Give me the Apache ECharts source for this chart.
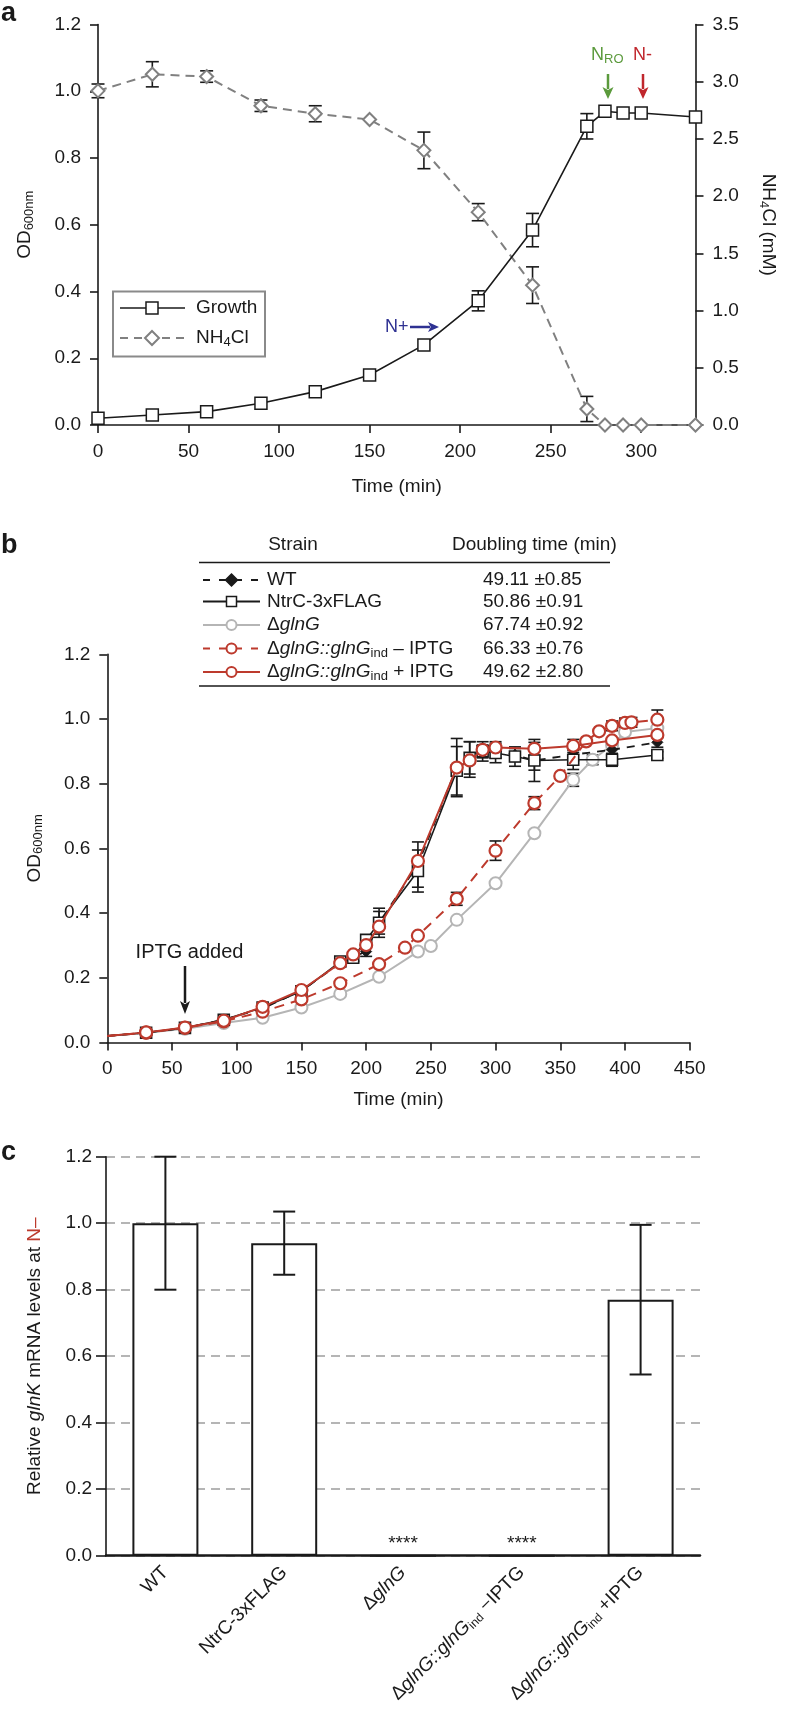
<!DOCTYPE html>
<html><head><meta charset="utf-8">
<script src="https://cdn.jsdelivr.net/npm/echarts@6.0.0/dist/echarts.min.js"></script>
<style>html,body{margin:0;padding:0;background:#fff}#c{width:786px;height:1718px}</style>
</head><body><div id="c"></div>
<script>
// ================= DATA =================
// Panel a
const aTime = [0, 30, 60, 90, 120, 150, 180, 210, 240, 270, 280, 290, 300, 330];
const aGrowth = [0.02, 0.03, 0.04, 0.065, 0.10, 0.15, 0.24, 0.372, 0.584, 0.895, 0.94, 0.935, 0.935, 0.923];
const aGrowthErr = [0, 0, 0, 0, 0, 0, 0, 0.03, 0.05, 0.038, 0, 0, 0, 0];
const aNH4 = [2.92, 3.065, 3.045, 2.79, 2.72, 2.67, 2.40, 1.86, 1.222, 0.14, 0, 0, 0, 0];
const aNH4Err = [0.06, 0.11, 0.05, 0.05, 0.07, 0, 0.16, 0.075, 0.16, 0.11, 0, 0, 0, 0];
const aXTicks = [0, 50, 100, 150, 200, 250, 300];

// Panel b
const bTimeWT = [0, 30, 60, 90, 120, 150, 180, 190, 200, 210, 240, 270, 280, 290, 300, 315, 330, 360, 390, 425];
const bWT = [0.02, 0.03, 0.045, 0.07, 0.105, 0.16, 0.245, 0.265, 0.281, 0.37, 0.55, 0.85, 0.875, 0.90, 0.905, 0.889, 0.872, 0.89, 0.905, 0.928];
const bWTErr = [0, 0, 0, 0, 0, 0, 0.01, 0.015, 0.015, 0.035, 0.07, 0.09, 0.055, 0.02, 0.025, 0.02, 0.065, 0.02, 0.02, 0.015];
const bTimeNtrC = [0, 30, 60, 90, 120, 150, 180, 190, 200, 210, 240, 270, 280, 290, 300, 315, 330, 360, 390, 425];
const bNtrC = [0.02, 0.03, 0.045, 0.07, 0.108, 0.158, 0.25, 0.262, 0.317, 0.37, 0.53, 0.84, 0.88, 0.90, 0.895, 0.884, 0.872, 0.874, 0.874, 0.889];
const bNtrCErr = [0, 0, 0, 0, 0, 0, 0.01, 0.01, 0.015, 0.045, 0.065, 0.075, 0.05, 0.03, 0.03, 0.03, 0.03, 0.03, 0.02, 0.01];
const bTimeGlnG = [0, 30, 60, 90, 120, 150, 180, 210, 240, 250, 270, 300, 330, 360, 375, 390, 400, 425];
const bGlnG = [0.02, 0.03, 0.042, 0.06, 0.076, 0.108, 0.15, 0.203, 0.281, 0.298, 0.379, 0.492, 0.647, 0.812, 0.874, 0.92, 0.96, 0.972];
const bGlnGErr = [0, 0, 0, 0, 0, 0, 0, 0, 0, 0, 0, 0, 0, 0.02, 0.015, 0, 0, 0];
const bTimeMinus = [0, 30, 60, 90, 120, 150, 180, 210, 230, 240, 270, 300, 330, 350, 370, 380, 390, 400, 405, 425];
const bMinus = [0.02, 0.03, 0.045, 0.065, 0.095, 0.133, 0.183, 0.242, 0.293, 0.330, 0.444, 0.593, 0.740, 0.824, 0.931, 0.962, 0.979, 0.988, 0.99, 0.998];
const bMinusErr = [0, 0, 0, 0, 0, 0, 0, 0, 0, 0, 0.02, 0.03, 0.02, 0, 0, 0, 0.015, 0.015, 0.015, 0.03];
const bTimePlus = [0, 30, 60, 90, 120, 150, 180, 190, 200, 210, 240, 270, 280, 290, 300, 330, 360, 390, 425];
const bPlus = [0.02, 0.031, 0.046, 0.067, 0.110, 0.162, 0.245, 0.272, 0.301, 0.358, 0.561, 0.85, 0.872, 0.905, 0.912, 0.908, 0.917, 0.934, 0.951];
const bPlusErr = [0, 0, 0, 0, 0, 0, 0, 0, 0, 0, 0, 0, 0, 0, 0, 0.02, 0.02, 0, 0];
const tblStrains = ['WT', 'NtrC-3xFLAG', '{n|\u0394}{i|glnG}', '{n|\u0394}{i|glnG::glnG}{sub|ind}{n| \u2013 IPTG}', '{n|\u0394}{i|glnG::glnG}{sub|ind}{n| + IPTG}'];
const tblDoubling = ['49.11 \u00b10.85', '50.86 \u00b10.91', '67.74 \u00b10.92', '66.33 \u00b10.76', '49.62 \u00b12.80'];

// Panel c
const cCats = ['WT', 'NtrC-3xFLAG', '\u0394glnG', '\u0394glnG::glnGind \u2212IPTG', '\u0394glnG::glnGind +IPTG'];
const cLabels = ['WT', 'NtrC-3xFLAG', '{n|\u0394}{i|glnG}', '{n|\u0394}{i|glnG::glnG}{sub|ind}{n| \u2212IPTG}', '{n|\u0394}{i|glnG::glnG}{sub|ind}{n| +IPTG}'];
const cValues = [1.0, 0.94, 0, 0, 0.77];
const cErr = [0.2, 0.095, 0, 0, 0.225];
const cSig = ['', '', '****', '****', ''];

// ================= STYLE =================
const FONT = '"Liberation Sans", Arial, Helvetica, sans-serif';
const INK = '#1a1a1a';
const RED = '#bd3a2d';
const LGRAY = '#b5b5b5';
const DGRAY = '#808080';
const TICK = 19, TITLE = 19;

function tok(size, color, extra) {
  return Object.assign({fontSize: size, fontFamily: FONT, color: color, fill: color}, extra || {});
}
const richBase = {
  n: tok(TITLE, INK),
  a: tok(TITLE, INK),
  i: tok(TITLE, INK, {fontStyle: 'italic'}),
  s: tok(13, INK, {padding: [9, 0, 0, 0]}),
  sub: tok(13, INK, {padding: [9, 0, 0, 0]}),
  r: tok(TITLE, RED)
};

function xy(xs, ys, hideZero) {
  return xs.map((x, i) => (hideZero && x === 0) ? {value: [x, ys[i]], symbol: 'none'} : [x, ys[i]]);
}
function errData(xs, ys, es) {
  const out = [];
  xs.forEach((x, i) => { if (es[i] > 0) out.push([x, ys[i] - es[i], ys[i] + es[i]]); });
  return out;
}
function errSeries(xi, yi, data, cap, z, lw) {
  return {
    type: 'custom', xAxisIndex: xi, yAxisIndex: yi, z: z, silent: true, data: data,
    encode: {x: 0, y: [1, 2]},
    renderItem: function (params, api) {
      const t = api.coord([api.value(0), api.value(2)]);
      const b = api.coord([api.value(0), api.value(1)]);
      const s = {stroke: INK, lineWidth: lw || 1.6};
      return {type: 'group', children: [
        {type: 'line', shape: {x1: t[0], y1: t[1], x2: b[0], y2: b[1]}, style: s},
        {type: 'line', shape: {x1: t[0] - cap, y1: t[1], x2: t[0] + cap, y2: t[1]}, style: s},
        {type: 'line', shape: {x1: b[0] - cap, y1: b[1], x2: b[0] + cap, y2: b[1]}, style: s}
      ]};
    }
  };
}

const axLine = {show: true, lineStyle: {color: INK, width: 1.6}};
const axTick = {show: true, inside: false, length: 8, lineStyle: {color: INK, width: 1.6}};
function axLabel(m, dec) {
  return {color: INK, fontSize: TICK, fontFamily: FONT, margin: m,
    formatter: dec ? (v => v.toFixed(dec)) : (v => String(v))};
}

// ================= GRAPHICS =================
function arrow(x1, y1, x2, y2, color, w, hl, hw) {
  const dx = x2 - x1, dy = y2 - y1, L = Math.sqrt(dx * dx + dy * dy);
  const ux = dx / L, uy = dy / L, px = -uy, py = ux;
  const bx = x2 - ux * hl, by = y2 - uy * hl;
  return {type: 'group', silent: true, children: [
    {type: 'line', shape: {x1: x1, y1: y1, x2: bx + ux * 2, y2: by + uy * 2}, style: {stroke: color, lineWidth: w}},
    {type: 'polygon', shape: {points: [[x2, y2], [bx + px * hw / 2, by + py * hw / 2], [bx + ux * hl * 0.25, by + uy * hl * 0.25], [bx - px * hw / 2, by - py * hw / 2]]}, style: {fill: color}}
  ]};
}
function txt(x, y, text, opt, z) {
  opt = opt || {};
  return {type: 'text', silent: true, z: z || 10, style: Object.assign({x: x, y: y, text: text, fill: INK, fontSize: TITLE, fontFamily: FONT,
    align: 'left', verticalAlign: 'middle', rich: richBase}, opt)};
}
function symbolShape(kind, cx, cy, color, fill) {
  if (kind === 'rect') return {type: 'rect', shape: {x: cx - 5, y: cy - 5, width: 10, height: 10}, style: {fill: fill, stroke: color, lineWidth: 1.5}};
  if (kind === 'circle') return {type: 'circle', shape: {cx: cx, cy: cy, r: 5}, style: {fill: fill, stroke: color, lineWidth: 2}};
  return {type: 'polygon', shape: {points: [[cx, cy - 6], [cx + 6, cy], [cx, cy + 6], [cx - 6, cy]]}, style: {fill: fill, stroke: color, lineWidth: 1.5}};
}

const graphics = [];
// panel letters
graphics.push(txt(1, 14, 'a', {fontSize: 27, fontWeight: 'bold'}));
graphics.push(txt(1, 546, 'b', {fontSize: 27, fontWeight: 'bold'}));
graphics.push(txt(1, 1153, 'c', {fontSize: 27, fontWeight: 'bold'}));

// panel a legend box
graphics.push({type: 'rect', silent: true, z: 50, shape: {x: 113, y: 291.5, width: 152, height: 65}, style: {fill: '#fff', stroke: '#8a8a8a', lineWidth: 2}});
graphics.push({type: 'line', silent: true, z: 51, shape: {x1: 120, y1: 308, x2: 185, y2: 308}, style: {stroke: INK, lineWidth: 1.6}});
graphics.push({type: 'rect', silent: true, z: 52, shape: {x: 146, y: 302, width: 12, height: 12}, style: {fill: '#fff', stroke: INK, lineWidth: 1.5}});
graphics.push({type: 'line', silent: true, z: 51, shape: {x1: 120, y1: 338, x2: 185, y2: 338}, style: {stroke: DGRAY, lineWidth: 2, lineDash: [8, 6]}});
graphics.push({type: 'polygon', silent: true, z: 52, shape: {points: [[152, 331], [159, 338], [152, 345], [145, 338]]}, style: {fill: '#fff', stroke: DGRAY, lineWidth: 2}});
graphics.push(txt(196, 308, 'Growth', {}, 53));
graphics.push(txt(196, 338, '{a|NH}{s|4}{a|Cl}', {}, 53));

// panel a annotations
const BLUE = '#2e3192', GREEN = '#5b9a3c', NRED = '#c0272d';
graphics.push(txt(385, 327, 'N+', {fill: BLUE, fontSize: 18}));
graphics.push(arrow(410, 327, 439, 327, BLUE, 2.5, 11, 10));
graphics.push(txt(591, 55, '{g|N}{gs|RO}', {fill: GREEN, rich: {g: tok(18, GREEN), gs: tok(13, GREEN, {padding: [9, 0, 0, 0]})}}));
graphics.push(arrow(608, 74, 608, 99, GREEN, 2.5, 12, 11));
graphics.push(txt(633, 55, 'N-', {fill: NRED, fontSize: 18}));
graphics.push(arrow(643, 74, 643, 99, NRED, 2.5, 12, 11));

// panel b annotation
graphics.push(txt(189.5, 952, 'IPTG added', {align: 'center', fontSize: 20}));
graphics.push(arrow(185, 966, 185, 1014, INK, 2.5, 13, 10));

// panel b table
const tblRowY = [580, 601.5, 625, 648.5, 672];
const tblSym = [
  {color: INK, dash: [7, 9], kind: 'diamond', fill: INK},
  {color: INK, dash: null, kind: 'rect', fill: '#fff'},
  {color: LGRAY, dash: null, kind: 'circle', fill: '#fff'},
  {color: RED, dash: [7, 9], kind: 'circle', fill: '#fff'},
  {color: RED, dash: null, kind: 'circle', fill: '#fff'}
];
graphics.push(txt(293, 545, 'Strain', {align: 'center'}));
graphics.push(txt(452, 545, 'Doubling time (min)'));
graphics.push({type: 'line', silent: true, shape: {x1: 199, y1: 562.5, x2: 610, y2: 562.5}, style: {stroke: INK, lineWidth: 1.6}});
graphics.push({type: 'line', silent: true, shape: {x1: 199, y1: 686, x2: 610, y2: 686}, style: {stroke: INK, lineWidth: 1.6}});
tblStrains.forEach((s, i) => {
  const y = tblRowY[i], st = tblSym[i];
  graphics.push({type: 'line', silent: true, shape: {x1: 203, y1: y, x2: 260, y2: y}, style: {stroke: st.color, lineWidth: 2, lineDash: st.dash}});
  graphics.push(Object.assign(symbolShape(st.kind, 231.5, y, st.color, st.fill), {silent: true, z: 5}));
  graphics.push(txt(267, y, s));
  graphics.push(txt(483, y, tblDoubling[i]));
});

// ================= OPTION =================
const option = {
  animation: false,
  backgroundColor: '#fff',
  textStyle: {fontFamily: FONT},
  grid: [
    {left: 98, top: 24.5, width: 602, height: 400.5},
    {left: 107.3, top: 654.4, width: 582.4, height: 388},
    {left: 106, top: 1156.7, width: 594, height: 399}
  ],
  xAxis: [
    {type: 'value', gridIndex: 0, min: 0, max: 330, interval: 50,
      axisLine: axLine, axisTick: Object.assign({customValues: aXTicks}, axTick), splitLine: {show: false},
      axisLabel: Object.assign(axLabel(17), {customValues: aXTicks}),
      name: 'Time (min)', nameLocation: 'middle', nameGap: 52,
      nameTextStyle: {fontSize: TITLE, color: INK, fontFamily: FONT}},
    {type: 'value', gridIndex: 1, min: 0, max: 450, interval: 50,
      axisLine: axLine, axisTick: axTick, splitLine: {show: false}, axisLabel: axLabel(17),
      name: 'Time (min)', nameLocation: 'middle', nameGap: 48,
      nameTextStyle: {fontSize: TITLE, color: INK, fontFamily: FONT}},
    {type: 'category', gridIndex: 2, data: cCats,
      axisLine: {show: true, lineStyle: {color: INK, width: 2.5}}, axisTick: {show: false}, splitLine: {show: false},
      axisLabel: {interval: 0, rotate: 45, margin: 14, color: INK, fontSize: TICK, fontFamily: FONT,
        formatter: (v, i) => cLabels[i],
        rich: {
          n: tok(TICK, INK),
          i: tok(TICK, INK, {fontStyle: 'italic'}),
          sub: tok(12, INK, {padding: [9, 0, 0, 0]})
        }}}
  ],
  yAxis: [
    {type: 'value', gridIndex: 0, min: 0, max: 1.2, interval: 0.2,
      axisLine: axLine, axisTick: axTick, splitLine: {show: false}, axisLabel: axLabel(17, 1),
      name: '{a|OD}{s|600nm}', nameLocation: 'middle', nameRotate: 90, nameGap: 62,
      nameTextStyle: {fontSize: TITLE, color: INK, fontFamily: FONT, rich: richBase}},
    {type: 'value', gridIndex: 0, position: 'right', min: 0, max: 3.5, interval: 0.5,
      axisLine: axLine, axisTick: axTick, splitLine: {show: false}, axisLabel: axLabel(17, 1),
      name: '{a|NH}{s|4}{a|Cl (mM)}', nameLocation: 'middle', nameRotate: -90, nameGap: 62,
      nameTextStyle: {fontSize: TITLE, color: INK, fontFamily: FONT, rich: richBase}},
    {type: 'value', gridIndex: 1, min: 0, max: 1.2, interval: 0.2,
      axisLine: axLine, axisTick: axTick, splitLine: {show: false}, axisLabel: axLabel(17, 1),
      name: '{a|OD}{s|600nm}', nameLocation: 'middle', nameRotate: 90, nameGap: 62,
      nameTextStyle: {fontSize: TITLE, color: INK, fontFamily: FONT, rich: richBase}},
    {type: 'value', gridIndex: 2, min: 0, max: 1.2, interval: 0.2,
      axisLine: axLine, axisTick: Object.assign({}, axTick, {length: 10}),
      splitLine: {show: true, lineStyle: {color: LGRAY, width: 2, type: [9, 6]}},
      axisLabel: axLabel(14, 1),
      name: '{a|Relative }{i|glnK}{a| mRNA levels at }{r|N\u2013}', nameLocation: 'middle', nameRotate: 90, nameGap: 62,
      nameTextStyle: {fontSize: TITLE, color: INK, fontFamily: FONT, rich: richBase}}
  ],
  series: [
    // ---- panel a ----
    errSeries(0, 0, errData(aTime, aGrowth, aGrowthErr), 6.5, 1),
    errSeries(0, 1, errData(aTime, aNH4, aNH4Err), 6.5, 1),
    {type: 'line', name: 'NH4Cl', xAxisIndex: 0, yAxisIndex: 1, data: xy(aTime, aNH4), z: 2,
      symbol: 'diamond', symbolSize: 13, showAllSymbol: true,
      lineStyle: {color: DGRAY, width: 2, type: [9, 6]},
      itemStyle: {color: '#fff', borderColor: DGRAY, borderWidth: 2}},
    {type: 'line', name: 'Growth', xAxisIndex: 0, yAxisIndex: 0, data: xy(aTime, aGrowth), z: 3,
      symbol: 'rect', symbolSize: 12, showAllSymbol: true,
      lineStyle: {color: INK, width: 1.6},
      itemStyle: {color: '#fff', borderColor: INK, borderWidth: 1.5}},
    // ---- panel b ----
    errSeries(1, 2, errData(bTimeGlnG, bGlnG, bGlnGErr), 6, 1),
    errSeries(1, 2, errData(bTimeWT, bWT, bWTErr), 6, 1),
    errSeries(1, 2, errData(bTimeNtrC, bNtrC, bNtrCErr), 6, 1),
    errSeries(1, 2, errData(bTimeMinus, bMinus, bMinusErr), 6, 1),
    errSeries(1, 2, errData(bTimePlus, bPlus, bPlusErr), 6, 1),
    {type: 'line', name: '\u0394glnG', xAxisIndex: 1, yAxisIndex: 2, data: xy(bTimeGlnG, bGlnG, true), z: 2,
      symbol: 'circle', symbolSize: 12, showAllSymbol: true,
      lineStyle: {color: LGRAY, width: 2}, itemStyle: {color: '#fff', borderColor: LGRAY, borderWidth: 2}},
    {type: 'line', name: 'WT', xAxisIndex: 1, yAxisIndex: 2, data: xy(bTimeWT, bWT, true), z: 3,
      symbol: 'diamond', symbolSize: 11, showAllSymbol: true,
      lineStyle: {color: INK, width: 1.8, type: [8, 7]}, itemStyle: {color: INK, borderColor: INK, borderWidth: 1}},
    {type: 'line', name: 'NtrC-3xFLAG', xAxisIndex: 1, yAxisIndex: 2, data: xy(bTimeNtrC, bNtrC, true), z: 4,
      symbol: 'rect', symbolSize: 11, showAllSymbol: true,
      lineStyle: {color: INK, width: 1.6}, itemStyle: {color: '#fff', borderColor: INK, borderWidth: 1.6}},
    {type: 'line', name: '-IPTG', xAxisIndex: 1, yAxisIndex: 2, data: xy(bTimeMinus, bMinus, true), z: 5,
      symbol: 'circle', symbolSize: 12, showAllSymbol: true,
      lineStyle: {color: RED, width: 2, type: [10, 7]}, itemStyle: {color: '#fff', borderColor: RED, borderWidth: 2.2}},
    {type: 'line', name: '+IPTG', xAxisIndex: 1, yAxisIndex: 2, data: xy(bTimePlus, bPlus, true), z: 6,
      symbol: 'circle', symbolSize: 12, showAllSymbol: true,
      lineStyle: {color: RED, width: 2}, itemStyle: {color: '#fff', borderColor: RED, borderWidth: 2.2}},
    // ---- panel c ----
    {type: 'bar', xAxisIndex: 2, yAxisIndex: 3, data: cValues, barWidth: 66, z: 2,
      itemStyle: {color: '#fff', borderColor: INK, borderWidth: 2}},
    errSeries(2, 3, errData([0, 1, 2, 3, 4], cValues, cErr), 11, 4, 2),
    {type: 'custom', xAxisIndex: 2, yAxisIndex: 3, z: 5, silent: true,
      data: cValues.map((v, i) => [i, v]),
      renderItem: function (params, api) {
        const s = cSig[params.dataIndex];
        if (!s) return null;
        const p = api.coord([api.value(0), api.value(1)]);
        return {type: 'text', style: {x: p[0], y: p[1] - 2, text: s, align: 'center', verticalAlign: 'bottom',
          fontSize: 19, fontFamily: FONT, fill: INK}};
      }}
  ],
  graphic: graphics
};

const chart = echarts.init(document.getElementById('c'), null, {renderer: 'canvas', width: 786, height: 1718});
chart.setOption(option);
</script>
</body></html>
